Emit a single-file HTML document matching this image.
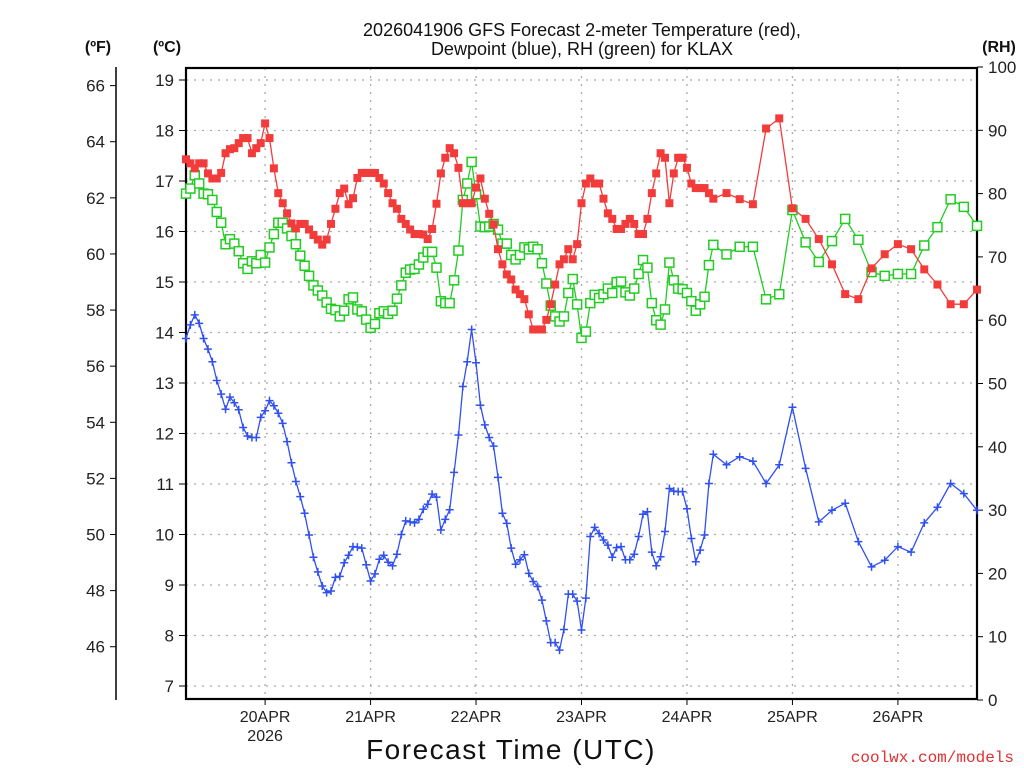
<!DOCTYPE html>
<html><head><meta charset="utf-8"><style>
html,body{margin:0;padding:0;background:#fff;}
svg{display:block;font-family:"Liberation Sans",sans-serif;}
</style></head><body>
<svg id="chart" width="1024" height="768" viewBox="0 0 1024 768" xmlns="http://www.w3.org/2000/svg">
<g id="grid"></g>
<g id="axes"></g>
<g id="series"></g>
<text x="582" y="36" text-anchor="middle" font-size="18" fill="#111">2026041906 GFS Forecast 2-meter Temperature (red),</text>
<text x="582" y="55" text-anchor="middle" font-size="18" fill="#111">Dewpoint (blue), RH (green) for KLAX</text>
<text x="98" y="52" text-anchor="middle" font-size="16" font-weight="bold" fill="#111">(ºF)</text>
<text x="167" y="52" text-anchor="middle" font-size="16" font-weight="bold" fill="#111">(ºC)</text>
<text x="999" y="52" text-anchor="middle" font-size="16" font-weight="bold" fill="#111">(RH)</text>
<text x="511" y="759" text-anchor="middle" font-size="28" letter-spacing="1.5" fill="#111">Forecast Time (UTC)</text>
<text x="1014" y="762" text-anchor="end" font-size="16" font-family="Liberation Mono, monospace" fill="#e03030">coolwx.com/models</text>
</svg>
<script>
// ---- data ----
const tempC = [17.43,17.35,17.25,17.35,17.35,17.15,17.05,17.05,17.16,17.55,17.63,17.65,17.75,17.85,17.85,17.55,17.65,17.75,18.14,17.85,17.25,16.76,16.56,16.36,16.16,16.06,16.15,16.15,16.04,15.93,15.84,15.74,15.84,16.15,16.45,16.76,16.85,16.54,16.66,17.06,17.16,17.16,17.16,17.16,17.06,
16.95,16.76,16.56,16.45,16.25,16.15,16.04,15.95,15.95,15.94,15.85,16.05,16.55,17.15,17.46,17.65,17.55,17.26,16.56,16.56,16.56,16.87,17.05,16.65,16.35,16.14,15.65,15.35,15.15,15.05,14.85,14.76,14.66,14.36,14.06,14.06,14.06,14.25,14.56,14.95,15.35,15.45,15.65,15.45,15.75,
16.56,16.95,17.05,16.95,16.95,16.65,16.36,16.25,16.05,16.05,16.15,16.25,16.15,15.95,15.95,16.25,16.76,17.15,17.55,17.46,16.56,17.15,17.46,17.46,17.26,16.95,16.86,16.86,16.86,16.76,16.65,
16.76,16.64,16.54,18.04,18.24,16.46,16.25,15.85,15.35,14.76,14.66,15.27,15.55,15.75,15.65,15.25,14.95,14.56,14.56,14.85];
const rhPct = [80.0,80.8,82.9,81.6,80.0,79.9,79.0,77.1,75.4,72.0,72.8,72.1,70.9,69.0,68.1,69.3,69.0,70.3,69.1,71.5,73.6,75.4,75.4,74.5,73.3,72.0,70.2,68.6,67.0,65.5,64.7,63.9,62.8,61.8,61.6,60.6,61.5,63.3,63.6,61.7,61.4,60.1,58.8,59.4,61.1,
61.4,61.0,61.5,63.4,65.5,67.5,68.0,68.1,68.8,69.9,70.8,70.8,68.3,63.0,62.7,62.7,66.3,71.0,79.0,81.6,85.0,79.9,74.8,74.7,74.8,75.2,74.3,72.1,72.1,70.3,69.6,70.3,71.5,71.2,71.6,71.2,69.0,65.8,62.3,60.6,59.8,60.6,64.3,66.5,62.5,
57.2,58.2,62.7,64.0,63.5,64.1,65.0,64.3,66.0,66.1,64.4,63.9,65.0,67.3,69.5,68.3,62.7,60.0,59.3,61.7,69.1,66.3,65.0,64.9,64.3,63.0,61.5,62.5,63.7,68.7,71.9,
70.4,71.6,71.6,63.3,64.1,77.4,72.3,69.2,72.5,76.0,72.7,67.6,67.0,67.3,67.3,71.8,74.7,79.1,77.9,74.9];
const dewC = [13.88,14.15,14.35,14.18,13.88,13.67,13.42,13.05,12.78,12.48,12.72,12.61,12.47,12.12,11.95,11.92,11.92,12.32,12.45,12.65,12.55,12.40,12.20,11.84,11.42,11.05,10.75,10.42,9.99,9.55,9.26,8.98,8.85,8.88,9.15,9.17,9.44,9.59,9.76,9.75,9.73,9.40,9.08,9.22,9.51,9.59,9.45,9.38,9.61,10.00,10.27,10.25,10.23,10.30,10.50,10.60,10.80,10.74,10.09,10.30,10.49,11.23,11.97,12.93,13.42,14.06,13.40,12.56,
12.17,11.92,11.75,11.13,10.42,10.22,9.73,9.41,9.50,9.60,9.23,9.07,8.97,8.70,8.29,7.86,7.86,7.71,8.12,8.82,8.82,8.68,8.11,8.74,9.96,10.14,10.02,9.89,9.79,9.55,9.74,9.76,9.50,9.50,9.61,9.96,10.40,10.45,9.65,9.38,9.56,10.06,10.91,10.86,10.85,10.85,10.51,9.92,9.46,9.69,9.99,11.01,11.59,
11.38,11.54,11.45,11.01,11.38,12.52,11.31,10.25,10.48,10.62,9.86,9.36,9.49,9.76,9.65,10.23,10.54,11.01,10.81,10.48];
const dayLabels = ["20APR","21APR","22APR","23APR","24APR","25APR","26APR"];
const celsiusTicks = [7,8,9,10,11,12,13,14,15,16,17,18,19];
const fahrenheitTicks = [46,48,50,52,54,56,58,60,62,64,66];
const rhTicks = [0,10,20,30,40,50,60,70,80,90,100];

// ---- scales ----
const X0=186, X1=977, Y0=68, Y1=699;
const hourSpan = 180; // 19APR06Z .. 26APR18Z
function hoursFor(i){ return i<=120 ? i : 120 + (i-120)*3; }
function xH(h){ return X0 + (X1-X0)*h/hourSpan; }
function yC(c){ return 80 + (19-c)*50.5; }
function yF(f){ return yC((f-32)/1.8); }
function yRH(r){ return 700 - r*6.33; }
const NS="http://www.w3.org/2000/svg";
function mk(tag, attrs, parent){ const e=document.createElementNS(NS,tag); for(const k in attrs) e.setAttribute(k,attrs[k]); parent.appendChild(e); return e; }
const grid=document.getElementById('grid'), axes=document.getElementById('axes'), series=document.getElementById('series');

celsiusTicks.forEach(c=>{
  const l=mk('line',{x1:X0,x2:X1,y1:yC(c),y2:yC(c),stroke:'#aaa','stroke-width':1.3,'stroke-dasharray':'2,6'},grid);
  
  
  const t=mk('line',{x1:X0-7,x2:X0,y1:yC(c),y2:yC(c),stroke:'#000','stroke-width':1},axes);
  
  
  const tx=mk('text',{x:X0-12,y:yC(c)+6,'text-anchor':'end','font-size':17,fill:'#222'},axes);
  tx.textContent=c;
  
  
});
dayLabels.forEach((d,i)=>{
  const x=xH(18+24*i);
  const l=mk('line',{x1:x,x2:x,y1:Y0,y2:Y1,stroke:'#aaa','stroke-width':1.3,'stroke-dasharray':'2,6'},grid);
  
  
  const t=mk('line',{x1:x,x2:x,y1:Y1,y2:Y1+6,stroke:'#000','stroke-width':1},axes);
  
  
  const tx=mk('text',{x:x,y:722,'text-anchor':'middle','font-size':16,fill:'#222'},axes);
  tx.textContent=d;
  
  
});
const yr=mk('text',{x:xH(18),y:741,'text-anchor':'middle','font-size':16,fill:'#222'},axes);
yr.textContent='2026';



const fa=mk('line',{x1:116,x2:116,y1:67,y2:700,stroke:'#000','stroke-width':1.5},axes);


fahrenheitTicks.forEach(f=>{
  const t=mk('line',{x1:110,x2:116,y1:yF(f),y2:yF(f),stroke:'#000','stroke-width':1},axes);
  
  
  const tx=mk('text',{x:105,y:yF(f)+6,'text-anchor':'end','font-size':17,fill:'#222'},axes);
  tx.textContent=f;
  
  
});
rhTicks.forEach(r=>{
  const t=mk('line',{x1:X1,x2:X1+6,y1:yRH(r),y2:yRH(r),stroke:'#000','stroke-width':1},axes);
  
  
  const tx=mk('text',{x:X1+11,y:yRH(r)+6,'text-anchor':'start','font-size':17,fill:'#222'},axes);
  tx.textContent=r;
  
  
});
const fr=mk('rect',{x:X0,y:Y0,width:X1-X0,height:Y1-Y0,fill:'none',stroke:'#000','stroke-width':2.2},axes);



function drawSeries(vals, yfun, color, name, marker){
  const g=mk('g',{},series);
  
  
  const pts=vals.map((v,i)=>xH(hoursFor(i)).toFixed(1)+','+yfun(v).toFixed(1)).join(' ');
  const pl=mk('polyline',{points:pts,fill:'none',stroke:color,'stroke-width':1.3},g);
  
  
  vals.forEach((v,i)=>{
    const x=xH(hoursFor(i)), y=yfun(v);
    let m;
    if(marker==='filled'){
      m=mk('rect',{x:x-4,y:y-4,width:8,height:8,fill:color},g);
    } else if(marker==='hollow'){
      m=mk('rect',{x:x-4.5,y:y-4.5,width:9,height:9,fill:'#fff',stroke:color,'stroke-width':1.5},g);
    } else {
      m=mk('path',{d:`M${x-4},${y}H${x+4}M${x},${y-4}V${y+4}`,stroke:color,'stroke-width':1.5},g);
    }
    
    
  });
}
drawSeries(dewC, yC, '#3050f0', 'dewpoint', 'plus');
drawSeries(rhPct, yRH, '#22cc22', 'rh', 'hollow');
drawSeries(tempC, yC, '#f23c3c', 'temperature', 'filled');
</script>
</body></html>
